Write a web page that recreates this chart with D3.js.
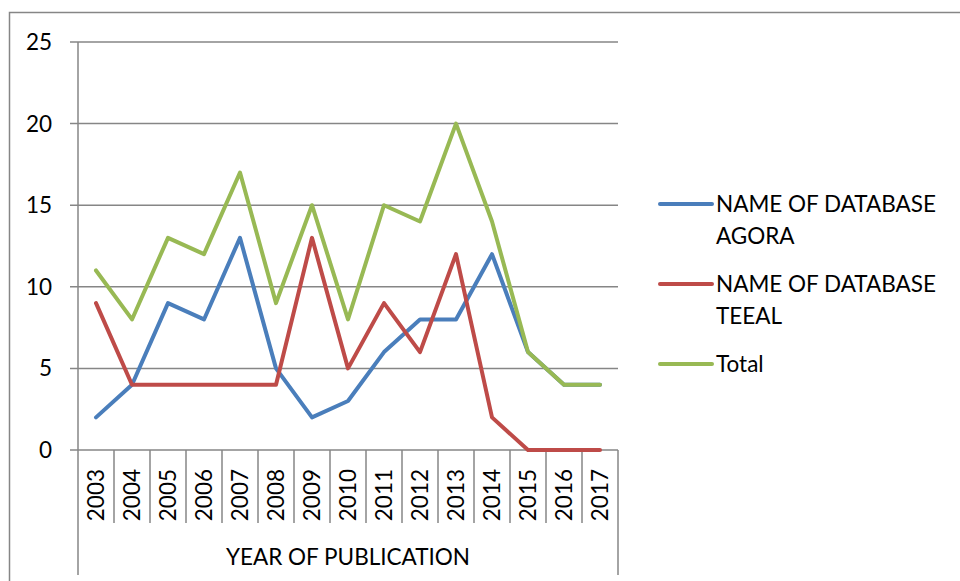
<!DOCTYPE html>
<html><head><meta charset="utf-8">
<script src="https://cdn.jsdelivr.net/npm/d3@7"></script>
<style>body{margin:0;background:#fff}svg{display:block}text{font-family:Lato,"Open Sans",sans-serif;fill:#000}</style>
</head><body>
<svg id="c" width="960" height="581"></svg>
<script>
const years = ["2003","2004","2005","2006","2007","2008","2009","2010","2011","2012","2013","2014","2015","2016","2017"];
const agora = [2,4,9,8,13,5,2,3,6,8,8,12,6,4,4];
const teeal = [9,4,4,4,4,4,13,5,9,6,12,2,0,0,0];
const total = [11,8,13,12,17,9,15,8,15,14,20,14,6,4,4];
const yTicks = [0,5,10,15,20,25];
const seriesNames = [["NAME OF DATABASE","AGORA"],["NAME OF DATABASE","TEEAL"],["Total"]];
const colors = ["#4A7EBB","#BE4B48","#98B954"];
const xTitle = "YEAR OF PUBLICATION";

const svg = d3.select("#c");
const L=78, R=618, T=42, B=450;
const FS=22.5;
const x = d3.scaleBand().domain(years).range([L,R]);
const y = d3.scaleLinear().domain([0,25]).range([B,T]);
const grey="#868686";

svg.append("path").attr("d","M9.5,581V12.5H962").attr("fill","none").attr("stroke",grey).attr("stroke-width",1.5);

yTicks.forEach(t=>{
  svg.append("line").attr("x1",70).attr("x2",R).attr("y1",y(t)).attr("y2",y(t)).attr("stroke",grey).attr("stroke-width",1.5);
  svg.append("text").attr("x",52).attr("y",y(t)+8).attr("text-anchor","end").attr("font-size",FS).text(t);
});
svg.append("line").attr("x1",L).attr("x2",L).attr("y1",T).attr("y2",575).attr("stroke",grey).attr("stroke-width",1.5);
svg.append("line").attr("x1",R).attr("x2",R).attr("y1",B).attr("y2",575).attr("stroke",grey).attr("stroke-width",1.5);
years.forEach((yr,i)=>{
  if(i>0) svg.append("line").attr("x1",x(yr)).attr("x2",x(yr)).attr("y1",B).attr("y2",523).attr("stroke",grey).attr("stroke-width",1.5);
  svg.append("text").attr("transform",`translate(${x(yr)+x.bandwidth()/2+8},469) rotate(-90)`)
    .attr("text-anchor","end").attr("font-size",FS).text(yr);
});
svg.append("text").attr("x",348).attr("y",565).attr("text-anchor","middle").attr("font-size",FS).text(xTitle);

const line = d3.line().x((d,i)=>x(years[i])+x.bandwidth()/2).y(d=>y(d));
[agora,teeal,total].forEach((s,k)=>{
  svg.append("path").datum(s).attr("d",line).attr("fill","none").attr("stroke",colors[k])
    .attr("stroke-width",4).attr("stroke-linejoin","round").attr("stroke-linecap","round");
});

const legY=[204,284,364];
seriesNames.forEach((nm,k)=>{
  svg.append("line").attr("x1",660).attr("x2",712).attr("y1",legY[k]).attr("y2",legY[k]).attr("stroke",colors[k]).attr("stroke-width",4).attr("stroke-linecap","round");
  nm.forEach((t,j)=>{
    svg.append("text").attr("x",716).attr("y",legY[k]+8+j*32).attr("font-size",FS).text(t);
  });
});
</script>
</body></html>
